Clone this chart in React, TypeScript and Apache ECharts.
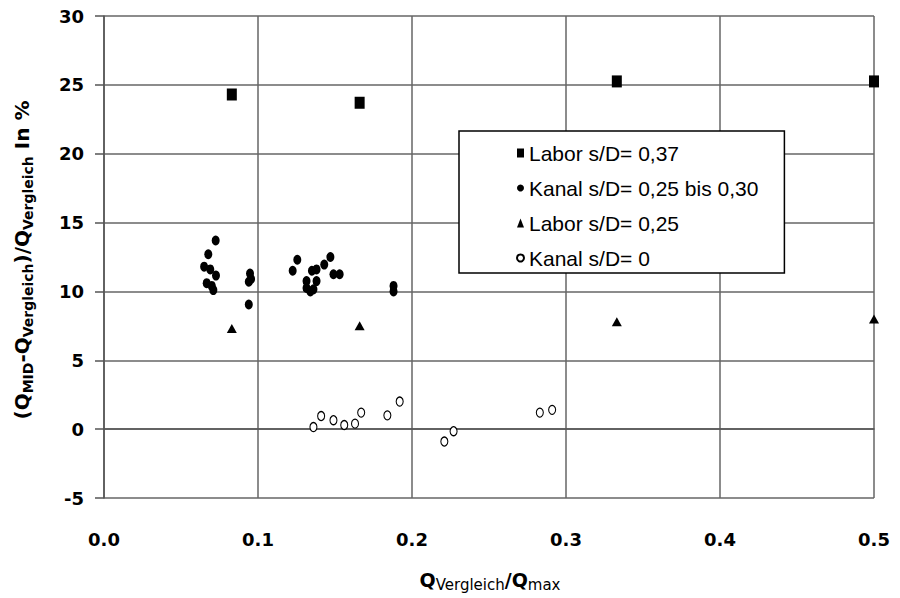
import React, { useEffect, useRef } from "react";
import * as echarts from "echarts";

const seriesNames = [
  "Labor s/D= 0,37",
  "Kanal s/D= 0,25 bis 0,30",
  "Labor s/D= 0,25",
  "Kanal s/D= 0",
];

const laborS037: number[][] = [
  [0.083, 24.3],
  [0.166, 23.7],
  [0.333, 25.25],
  [0.5, 25.25],
];

const kanalS025bis030: number[][] = [
  [0.0725, 13.7],
  [0.0677, 12.7],
  [0.065, 11.8],
  [0.069, 11.6],
  [0.0727, 11.15],
  [0.0667, 10.6],
  [0.07, 10.4],
  [0.071, 10.1],
  [0.0948, 11.3],
  [0.0955, 10.9],
  [0.094, 10.7],
  [0.094, 9.05],
  [0.1255, 12.3],
  [0.1225, 11.5],
  [0.147, 12.5],
  [0.143, 11.95],
  [0.138, 11.6],
  [0.135, 11.5],
  [0.149, 11.25],
  [0.153, 11.25],
  [0.1315, 10.75],
  [0.138, 10.75],
  [0.1315, 10.25],
  [0.134, 10.0],
  [0.136, 10.15],
  [0.188, 10.4],
  [0.188, 10.0],
];

const laborS025: number[][] = [
  [0.083, 7.3],
  [0.166, 7.5],
  [0.333, 7.8],
  [0.5, 8.0],
];

const kanalS0: number[][] = [
  [0.136, 0.15],
  [0.141, 0.95],
  [0.149, 0.65],
  [0.156, 0.3],
  [0.163, 0.4],
  [0.167, 1.2],
  [0.184, 1.0],
  [0.192, 2.0],
  [0.221, -0.9],
  [0.227, -0.15],
  [0.283, 1.2],
  [0.291, 1.4],
];

const xAxisRange = { min: 0, max: 0.5, interval: 0.1 };
const yAxisRange = { min: -5, max: 30, interval: 5 };

export default function App() {
  const ref = useRef<HTMLDivElement>(null);

  useEffect(() => {
    if (!ref.current) return;
    const chart = echarts.init(ref.current, null, { renderer: "svg" });
    const tickFont = {
      fontFamily: "DejaVu Sans",
      fontWeight: "bold" as const,
      fontSize: 18,
      color: "#000",
    };
    chart.setOption({
      animation: false,
      backgroundColor: "#fff",
      grid: { left: 104, right: 26, top: 16, bottom: 100, containLabel: false },
      xAxis: {
        type: "value",
        ...xAxisRange,
        axisLine: { show: true, lineStyle: { color: "#555", width: 1.5 } },
        axisTick: { show: false },
        splitLine: { show: true, lineStyle: { color: "#666", width: 1.5 } },
        axisLabel: {
          ...tickFont,
          margin: 32,
          formatter: (v: number) => v.toFixed(1),
        },
      },
      yAxis: {
        type: "value",
        ...yAxisRange,
        axisLine: { show: true, lineStyle: { color: "#555", width: 1.5 } },
        axisTick: { show: true, inside: false, length: 9, lineStyle: { color: "#555", width: 1.5 } },
        splitLine: { show: true, lineStyle: { color: "#666", width: 1.5 } },
        axisLabel: { ...tickFont, margin: 20 },
      },
      legend: {
        orient: "vertical",
        left: 459,
        top: 131,
        padding: [11, 26, 4, 57],
        itemGap: 13,
        itemWidth: 7,
        itemHeight: 9,
        borderColor: "#000",
        borderWidth: 1.5,
        backgroundColor: "#fff",
        textStyle: {
          fontFamily: "Liberation Sans, Arial",
          fontSize: 21,
          lineHeight: 22,
          color: "#000",
        },
        data: seriesNames,
      },
      series: [
        {
          name: seriesNames[0],
          type: "scatter",
          symbol: "rect",
          symbolSize: [10, 12],
          clip: false,
          itemStyle: { color: "#000", opacity: 1 },
          data: laborS037,
          z: 5,
        },
        {
          name: seriesNames[1],
          type: "scatter",
          symbol: "circle",
          symbolSize: [8, 10],
          clip: false,
          itemStyle: { color: "#000", opacity: 1 },
          data: kanalS025bis030,
          z: 5,
        },
        {
          name: seriesNames[2],
          type: "scatter",
          symbol: "triangle",
          symbolSize: [10, 9],
          clip: false,
          itemStyle: { color: "#000", opacity: 1 },
          data: laborS025,
          z: 5,
        },
        {
          name: seriesNames[3],
          type: "scatter",
          symbol: "circle",
          symbolSize: [7, 9],
          clip: false,
          itemStyle: { color: "#fff", borderColor: "#000", borderWidth: 1.2, opacity: 1 },
          data: kanalS0,
          z: 5,
        },
      ],
      graphic: [
        {
          type: "text",
          x: 22,
          y: 260,
          rotation: Math.PI / 2,
          style: {
            text:
              "{m|(Q}{s|MID}{m|-Q}{s|Vergleich}{m|)/Q}{s|Vergleich}{m| In %}",
            align: "center",
            verticalAlign: "middle",
            fill: "#000",
            rich: {
              m: {
                fontFamily: "DejaVu Sans",
                fontWeight: "bold",
                fontSize: 20,
                lineHeight: 26,
                verticalAlign: "middle",
                fill: "#000",
              },
              s: {
                fontFamily: "DejaVu Sans",
                fontWeight: "bold",
                fontSize: 14,
                lineHeight: 12,
                verticalAlign: "bottom",
                fill: "#000",
              },
            },
          },
        },
        {
          type: "text",
          x: 490,
          y: 580,
          style: {
            text: "{m|Q}{s|Vergleich}{m|/Q}{s|max}",
            align: "center",
            verticalAlign: "middle",
            fill: "#000",
            rich: {
              m: {
                fontFamily: "DejaVu Sans",
                fontWeight: "bold",
                fontSize: 19,
                lineHeight: 24,
                verticalAlign: "middle",
                fill: "#000",
              },
              s: {
                fontFamily: "DejaVu Sans",
                fontSize: 15,
                lineHeight: 12,
                verticalAlign: "bottom",
                fill: "#000",
              },
            },
          },
        },
      ],
    });
    return () => chart.dispose();
  }, []);

  return (
    <div
      ref={ref}
      style={{ position: "fixed", left: 0, top: 0, width: 900, height: 598, background: "#fff" }}
    />
  );
}
